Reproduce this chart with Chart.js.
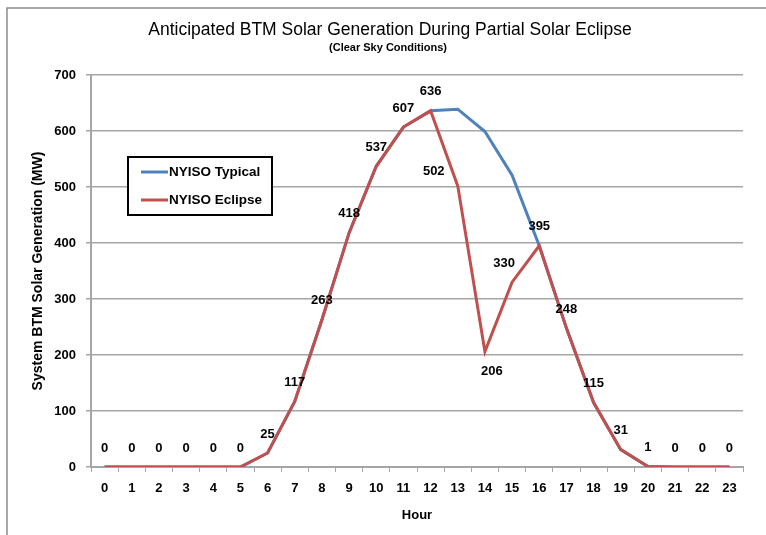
<!DOCTYPE html>
<html>
<head>
<meta charset="utf-8">
<script src="https://cdn.jsdelivr.net/npm/chart.js@4/dist/chart.umd.min.js"></script>
<style>
  html, body { margin: 0; padding: 0; background: #fff; }
  #wrap { width: 766px; height: 535px; position: relative; }
</style>
</head>
<body>
<div id="wrap"><canvas id="c" width="766" height="535"></canvas></div>
<script>
const HOURS = ['0','1','2','3','4','5','6','7','8','9','10','11','12','13','14','15','16','17','18','19','20','21','22','23'];
const TYPICAL = [0, 0, 0, 0, 0, 0, 25, 117, 263, 418, 537, 607, 636, 639, 599, 521, 395, 248, 115, 31, 1, 0, 0, 0];
const ECLIPSE = [0, 0, 0, 0, 0, 0, 25, 117, 263, 418, 537, 607, 636, 502, 206, 330, 395, 248, 115, 31, 1, 0, 0, 0];
const Y_TICKS = [0, 100, 200, 300, 400, 500, 600, 700];
const TITLE = 'Anticipated BTM Solar Generation During Partial Solar Eclipse';
const SUBTITLE = '(Clear Sky Conditions)';
// where each eclipse value label sits relative to its point
const LABEL_POS = ['above','above','above','above','above','above','above','above','above','above','above','above',
  'above','left','below','upleft','above','above','above','above','above','above','above','above'];

const FONT = '"Liberation Sans", Arial, sans-serif';
const BLUE = '#4F81BD';
const RED = '#C0504D';
const GRID = '#A6A6A6';

// outer frame (only left and top edges are visible in the original) + titles
const framePlugin = {
  id: 'frame',
  beforeDraw(chart) {
    const ctx = chart.ctx;
    ctx.save();
    ctx.fillStyle = '#fff';
    ctx.fillRect(0, 0, chart.width, chart.height);
    ctx.strokeStyle = '#8c8c8c';
    ctx.lineWidth = 1.5;
    ctx.beginPath();
    ctx.moveTo(7, chart.height);
    ctx.lineTo(7, 8);
    ctx.lineTo(chart.width, 8);
    ctx.stroke();

    ctx.fillStyle = '#000';
    ctx.textAlign = 'center';
    ctx.textBaseline = 'middle';
    ctx.font = '17.5px ' + FONT;
    ctx.fillText(TITLE, 390, 30);
    ctx.font = 'bold 11px ' + FONT;
    ctx.fillText(SUBTITLE, 388, 48);
    ctx.restore();
  }
};

// value labels on the eclipse line
const labelPlugin = {
  id: 'vlabels',
  afterDatasetsDraw(chart) {
    const ctx = chart.ctx;
    const meta = chart.getDatasetMeta(0);
    ctx.save();
    ctx.font = 'bold 13px ' + FONT;
    ctx.fillStyle = '#000';
    ctx.textAlign = 'center';
    ctx.textBaseline = 'middle';
    meta.data.forEach((pt, i) => {
      const pos = LABEL_POS[i];
      let x = pt.x, y = pt.y - 19;
      if (pos === 'left') { x = pt.x - 24; y = pt.y - 14; }
      if (pos === 'below') { x = pt.x + 7; y = pt.y + 20; }
      if (pos === 'upleft') { x = pt.x - 8; }
      ctx.fillText(String(ECLIPSE[i]), x, y);
    });
    ctx.restore();
  }
};

// boxed legend inside the plot area
const legendPlugin = {
  id: 'boxLegend',
  afterDraw(chart) {
    const ctx = chart.ctx;
    const x0 = 128, y0 = 157, w = 144, h = 58;
    ctx.save();
    ctx.fillStyle = '#fff';
    ctx.fillRect(x0, y0, w, h);
    ctx.strokeStyle = '#000';
    ctx.lineWidth = 2;
    ctx.strokeRect(x0, y0, w, h);
    const items = [{ label: 'NYISO Typical', color: BLUE }, { label: 'NYISO Eclipse', color: RED }];
    ctx.font = 'bold 13.5px ' + FONT;
    ctx.textBaseline = 'middle';
    items.forEach((it, i) => {
      const y = y0 + 15 + i * 28;
      ctx.strokeStyle = it.color;
      ctx.lineWidth = 3;
      ctx.beginPath();
      ctx.moveTo(x0 + 13, y);
      ctx.lineTo(x0 + 40, y);
      ctx.stroke();
      ctx.fillStyle = '#000';
      ctx.fillText(it.label, x0 + 41, y);
    });
    ctx.restore();
  }
};

new Chart(document.getElementById('c'), {
  type: 'line',
  data: {
    labels: HOURS,
    datasets: [
      { label: 'NYISO Eclipse', data: ECLIPSE, borderColor: RED, borderWidth: 3, pointRadius: 0, tension: 0, order: 0 },
      { label: 'NYISO Typical', data: TYPICAL, borderColor: BLUE, borderWidth: 3, pointRadius: 0, tension: 0, order: 1 },
    ],
  },
  options: {
    responsive: false,
    animation: false,
    layout: { padding: { left: 20, right: 23, top: 75, bottom: 8 } },
    plugins: {
      legend: { display: false },
      tooltip: { enabled: false },
      title: { display: false },
    },
    scales: {
      x: {
        offset: true,
        grid: { display: true, drawOnChartArea: false, offset: true, color: GRID, tickLength: 5 },
        border: { color: GRID, width: 2 },
        ticks: { color: '#000', font: { family: FONT, size: 13, weight: 'bold' }, maxRotation: 0, autoSkip: false, padding: 9 },
        title: { display: true, text: 'Hour', color: '#000', font: { family: FONT, size: 13, weight: 'bold' }, padding: { top: 6 } },
        afterFit: (s) => { s.height = 60; },
      },
      y: {
        min: 0,
        max: 700,
        afterBuildTicks: (s) => { s.ticks = Y_TICKS.map(v => ({ value: v })); },
        grid: { color: GRID, lineWidth: 1.5, tickLength: 5 },
        border: { color: GRID, width: 2 },
        ticks: { color: '#000', font: { family: FONT, size: 13, weight: 'bold' }, padding: 10 },
        title: { display: true, text: 'System BTM Solar Generation (MW)', color: '#000', font: { family: FONT, size: 14, weight: 'bold' }, padding: { top: 10, bottom: 4 } },
        afterFit: (s) => { s.width = 71; },
      },
    },
  },
  plugins: [framePlugin, labelPlugin, legendPlugin],
});
</script>
</body>
</html>
